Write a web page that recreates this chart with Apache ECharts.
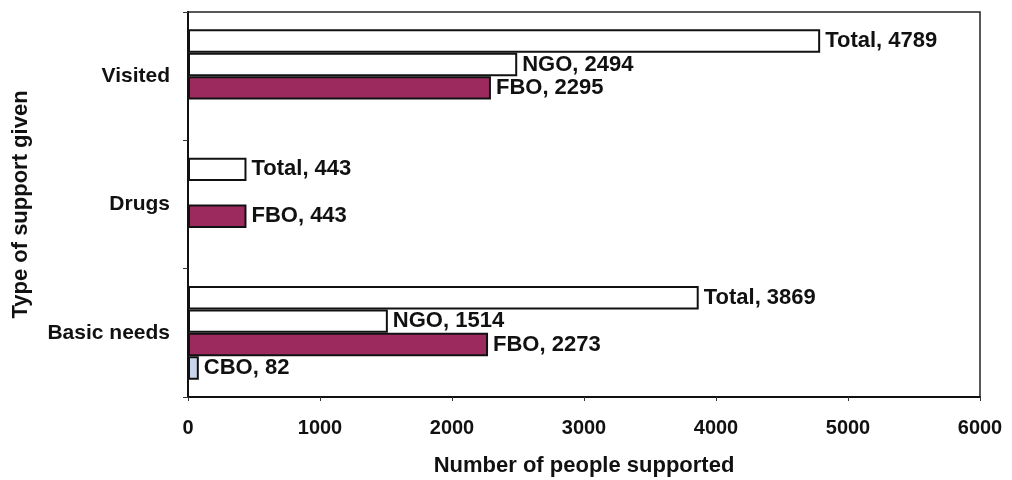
<!DOCTYPE html>
<html>
<head>
<meta charset="utf-8">
<script src="https://cdn.jsdelivr.net/npm/echarts@6/dist/echarts.min.js"></script>
<style>html,body{margin:0;padding:0;background:#fff;}#c{width:1012px;height:480px;}</style>
</head>
<body>
<div id="c"></div>
<script>
var categories = ['Basic needs', 'Drugs', 'Visited'];
var seriesNames = ['Total', 'NGO', 'FBO', 'CBO'];
var totalValues = [3869, 443, 4789];
var ngoValues = [1514, '-', 2494];
var fboValues = [2273, 443, 2295];
var cboValues = [82, '-', '-'];
var xTicks = [0, 1000, 2000, 3000, 4000, 5000, 6000];

var font = 'Liberation Sans, Arial, sans-serif';
var fills = { CBO: '#c8d5ea', FBO: '#9c2a5f', NGO: '#ffffff', Total: '#ffffff' };
var dataMap = { CBO: cboValues, FBO: fboValues, NGO: ngoValues, Total: totalValues };

var chart = echarts.init(document.getElementById('c'));
chart.setOption({
  animation: false,
  grid: { left: 188, right: 32, top: 12, bottom: 83, outerBoundsMode: 'none', containLabel: false,
    show: true, borderColor: '#222', borderWidth: 1.5, backgroundColor: 'transparent' },
  xAxis: {
    type: 'value', min: xTicks[0], max: xTicks[xTicks.length - 1], interval: 1000,
    splitLine: { show: false },
    axisLine: { show: true, lineStyle: { color: '#111', width: 2 } },
    axisTick: { show: true, length: 4, lineStyle: { color: '#333' } },
    axisLabel: { color: '#111', fontFamily: font, fontSize: 20, fontWeight: 'bold', margin: 21,
      formatter: function (v) { return String(v); } },
    name: 'Number of people supported', nameLocation: 'middle', nameGap: 58,
    nameTextStyle: { color: '#111', fontFamily: font, fontSize: 22, fontWeight: 'bold' }
  },
  yAxis: {
    type: 'category', data: categories,
    axisLine: { show: true, lineStyle: { color: '#111', width: 2 } },
    axisTick: { show: true, length: 5, inside: false, lineStyle: { color: '#333' } },
    axisLabel: { color: '#111', fontFamily: font, fontSize: 21, fontWeight: 'bold', margin: 18 },
    name: 'Type of support given', nameLocation: 'middle', nameGap: 156, nameRotate: 90,
    nameTextStyle: { color: '#111', fontFamily: font, fontSize: 22, fontWeight: 'bold' }
  },
  series: seriesNames.map(function (n) {
    return {
      name: n, type: 'bar', data: dataMap[n],
      barGap: '0%', barCategoryGap: '27%',
      itemStyle: { color: fills[n], borderColor: '#111', borderWidth: 2 },
      label: { show: true, position: 'right', distance: 5, formatter: '{a}, {c}', color: '#111', fontFamily: font, fontSize: 22, fontWeight: 'bold' }
    };
  })
});
</script>
</body>
</html>
